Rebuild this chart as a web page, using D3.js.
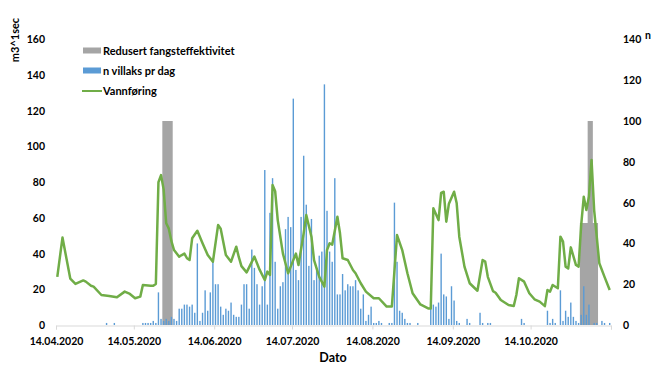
<!DOCTYPE html>
<html>
<head>
<meta charset="utf-8">
<script src="https://cdn.jsdelivr.net/npm/d3@7"></script>
<style>
  body { margin: 0; background: #fff; }
  text { font-family: Lato, "Open Sans", sans-serif; font-weight: 700; fill: #000; }
</style>
</head>
<body>
<div id="chart"></div>
<script>
// day number counted from 14.04.2020
var flowDay = [0, 2, 5, 7, 10, 11, 13, 14, 17, 20, 23, 26, 28, 30, 32, 33, 36, 37, 38, 39, 40, 41, 42, 43, 44, 45, 47, 48, 49, 50, 51, 52, 54, 56, 58, 60, 62, 63, 65, 67, 69, 70, 71, 73, 76, 78, 80, 81, 82, 83, 84, 85, 87, 89, 90, 92, 93, 95, 96, 98, 99, 101, 103, 104, 105, 106, 108, 109, 110, 112, 114, 115, 117, 119, 122, 124, 127, 129, 131, 133, 135, 137, 140, 143, 144, 145, 147, 148, 149, 150, 151, 153, 154, 155, 157, 159, 162, 164, 165, 166, 168, 169, 171, 174, 176, 177, 178, 180, 182, 184, 186, 188, 189, 190, 191, 193, 194, 195, 196, 197, 198, 200, 201, 202, 203, 204, 205, 206, 207, 209, 211, 213];
var flowValue = [27, 49, 26, 23, 25, 24.3, 22, 21.5, 16.8, 16.3, 15.5, 18.7, 17.4, 15, 15.9, 22.4, 22, 22, 23, 80, 84, 76, 57, 54, 47, 42, 38.3, 39.2, 40, 37.4, 36.4, 48.6, 52.8, 45.8, 39.2, 35.5, 56, 54, 39.2, 35.5, 43.9, 38, 33, 29.5, 38.3, 31, 25.2, 29.9, 28, 78.5, 75, 58.8, 40, 29, 32.7, 40, 33.6, 51.4, 61.6, 49.5, 36.4, 27, 21.5, 42, 45.8, 45, 60.7, 51.4, 37.4, 36.4, 30.8, 29, 23.4, 18.7, 15, 15, 10.3, 10.3, 50.4, 42, 29, 17.8, 11.5, 9.3, 9.3, 65.4, 58.8, 74, 74.7, 57.9, 68, 74.7, 68.2, 49.5, 32.7, 23.4, 19.2, 36.4, 35.5, 27, 19, 18.1, 14, 11.2, 10.6, 16.8, 26.2, 24.3, 17.8, 14.4, 13.1, 10.6, 19.6, 18.7, 22.4, 20.6, 49.5, 46.7, 32.7, 31.7, 43.5, 33.6, 32.7, 56, 71.9, 64.4, 72, 92.5, 64.4, 34.6, 27, 19.6];

var fishDay = [19, 22, 33, 34, 35, 36, 37, 38, 39, 40, 41, 42, 43, 44, 45, 46, 47, 48, 49, 50, 51, 52, 53, 54, 55, 56, 57, 58, 59, 60, 61, 62, 63, 64, 65, 66, 67, 68, 69, 70, 71, 72, 73, 74, 75, 76, 77, 78, 79, 80, 81, 82, 83, 84, 85, 86, 87, 88, 89, 90, 91, 92, 93, 94, 95, 96, 97, 98, 99, 100, 101, 102, 103, 104, 105, 106, 107, 108, 109, 110, 111, 112, 113, 114, 115, 116, 117, 118, 119, 120, 121, 122, 123, 124, 125, 128, 129, 130, 131, 132, 133, 134, 135, 136, 139, 144, 145, 146, 147, 148, 149, 150, 151, 152, 153, 154, 155, 158, 159, 163, 164, 166, 167, 179, 180, 189, 190, 191, 192, 194, 195, 196, 197, 198, 199, 200, 201, 202, 203, 204, 205, 207, 208, 210, 211, 213];
var fishCount = [1, 1, 1, 1, 1, 1, 2, 1, 16, 3, 2, 3, 2, 4, 3, 2, 8, 8, 10, 10, 9, 10, 6, 40, 2, 6, 17, 7, 16, 31, 20, 20, 9, 5, 8, 7, 11, 5, 4, 4, 10, 20, 20, 8, 37, 28, 20, 10, 19, 76, 10, 55, 72, 31, 8, 19, 21, 47, 53, 48, 111, 27, 22, 53, 83, 59, 29, 52, 22, 28, 34, 36, 118, 56, 36, 31, 72, 15, 15, 25, 17, 20, 19, 19, 22, 17, 8, 15, 2, 5, 9, 1, 1, 2, 1, 1, 1, 60, 31, 7, 6, 3, 1, 1, 1, 10, 10, 9, 11, 35, 15, 14, 3, 19, 12, 2, 1, 3, 1, 6, 1, 1, 1, 3, 1, 7, 1, 3, 1, 17, 2, 7, 4, 11, 4, 2, 1, 5, 19, 5, 10, 1, 1, 2, 1, 1];

// step levels (value holds until next day listed)
var reducedDay = [0, 41, 45, 202, 205, 207, 209, 214];
var reducedLevel = [0, 100, 0, 50, 100, 50, 0, 0];

var leftTicks = [0, 20, 40, 60, 80, 100, 120, 140, 160];
var rightTicks = [0, 20, 40, 60, 80, 100, 120, 140];
var monthTicks = ["2020-04-14", "2020-05-14", "2020-06-14", "2020-07-14", "2020-08-14", "2020-09-14", "2020-10-14", "2020-11-14"];
var legendNames = ["Redusert fangsteffektivitet", "n villaks pr dag", "Vannføring"];

var width = 669, height = 376;
var startDate = new Date(Date.UTC(2020, 3, 14));
var dayMs = 86400000;
function dayDate(d) { return new Date(startDate.getTime() + d * dayMs); }

var svg = d3.select("#chart").append("svg")
  .attr("width", width)
  .attr("height", height);

svg.append("rect").attr("width", width).attr("height", height).attr("fill", "#fff");

var x = d3.scaleUtc()
  .domain([startDate, new Date(Date.UTC(2020, 10, 14))])
  .range([56, 611]);
var yLeft = d3.scaleLinear().domain([0, 160]).range([325, 39.5]);
var yRight = d3.scaleLinear().domain([0, 140]).range([325, 39.5]);

// x axis
var tickDates = monthTicks.map(function(s) { return new Date(s + "T00:00:00Z"); });
var fmt = d3.utcFormat("%d.%m.%Y");
var xAxis = svg.append("g")
  .attr("transform", "translate(0,325.5)")
  .call(d3.axisBottom(x).tickValues(tickDates).tickSize(4).tickPadding(6)
    .tickFormat(function(d, i) { return i < tickDates.length - 1 ? fmt(d) : ""; }));
xAxis.select(".domain").attr("stroke", "#d9d9d9");
xAxis.selectAll(".tick line").attr("stroke", "#d9d9d9");
xAxis.selectAll("text").style("font-size", "10.5px").attr("dy", "0.9em");

// y axes (labels only)
var la = svg.append("g").attr("transform", "translate(56,0)")
  .call(d3.axisLeft(yLeft).tickValues(leftTicks).tickSize(0).tickPadding(11));
la.select(".domain").remove();
la.selectAll("text").style("font-size", "10.5px");

var ra = svg.append("g").attr("transform", "translate(611,0)")
  .call(d3.axisRight(yRight).tickValues(rightTicks).tickSize(0).tickPadding(12));
ra.select(".domain").remove();
ra.selectAll("text").style("font-size", "10.5px");

// reduced efficiency area (right axis)
var reduced = reducedDay.map(function(d, i) { return { d: d, v: reducedLevel[i] }; });
svg.append("path")
  .datum(reduced)
  .attr("fill", "#a5a5a5")
  .attr("d", d3.area()
    .curve(d3.curveStepAfter)
    .x(function(p) { return x(dayDate(p.d)); })
    .y0(yRight(0))
    .y1(function(p) { return yRight(p.v); }));

// fish per day bars (right axis)
var fish = fishDay.map(function(d, i) { return { d: d, n: fishCount[i] }; });
var barW = 1.4;
svg.append("g").selectAll("rect")
  .data(fish)
  .join("rect")
  .attr("x", function(p) { return x(dayDate(p.d + 0.5)) - barW / 2; })
  .attr("y", function(p) { return yRight(p.n); })
  .attr("width", barW)
  .attr("height", function(p) { return yRight(0) - yRight(p.n); })
  .attr("fill", "#5b9bd5");

// water flow line (left axis)
var flow = flowDay.map(function(d, i) { return { d: d, v: flowValue[i] }; });
svg.append("path")
  .datum(flow)
  .attr("fill", "none")
  .attr("stroke", "#70ad47")
  .attr("stroke-width", 2.5)
  .attr("stroke-linejoin", "round")
  .attr("d", d3.line()
    .x(function(p) { return x(dayDate(p.d + 0.5)); })
    .y(function(p) { return yLeft(p.v); }));

// axis titles
svg.append("text")
  .attr("transform", "translate(19,40) rotate(-90)")
  .attr("text-anchor", "middle")
  .style("font-size", "11px")
  .text("m3^1sec");
svg.append("text")
  .attr("x", 645).attr("y", 39)
  .style("font-size", "10.5px")
  .text("n");
svg.append("text")
  .attr("x", 333).attr("y", 362)
  .attr("text-anchor", "middle")
  .style("font-size", "12.5px")
  .text("Dato");

// legend
var legend = svg.append("g");
var rowY = [51, 71, 91];
legendNames.forEach(function(name, i) {
  if (i === 0 || i === 1) {
    legend.append("rect")
      .attr("x", 83).attr("y", rowY[i] - 3.5)
      .attr("width", 18).attr("height", 6)
      .attr("fill", i === 0 ? "#a5a5a5" : "#5b9bd5");
  } else {
    legend.append("line")
      .attr("x1", 82).attr("x2", 102)
      .attr("y1", rowY[i]).attr("y2", rowY[i])
      .attr("stroke", "#70ad47").attr("stroke-width", 2);
  }
  legend.append("text")
    .attr("x", 103).attr("y", rowY[i])
    .attr("dy", "0.35em")
    .style("font-size", "11px")
    .text(name);
});
</script>
</body>
</html>
